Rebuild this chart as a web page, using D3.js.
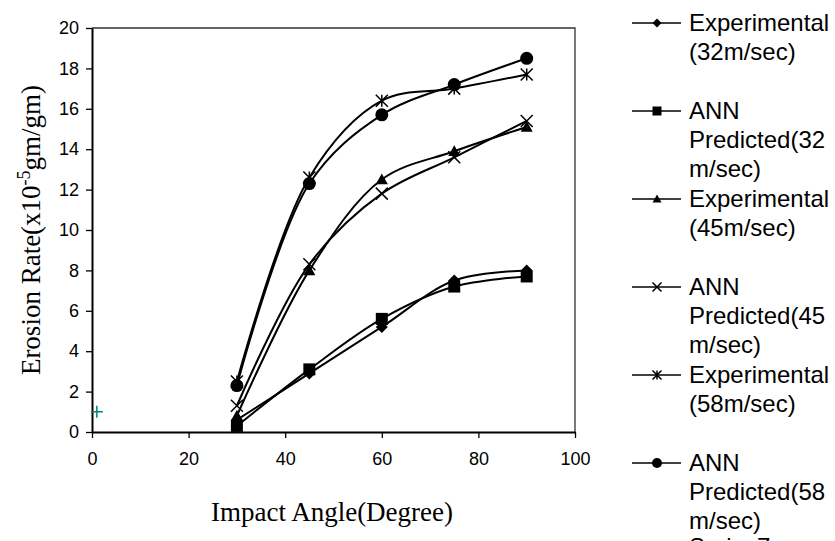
<!DOCTYPE html>
<html>
<head>
<meta charset="utf-8">
<script src="https://cdn.jsdelivr.net/npm/d3@7"></script>
<style>
  body { margin: 0; background: #fff; }
  .tick text { font-family: "Liberation Sans", Arial, sans-serif; font-size: 18px; fill: #000; }
  .legend text { font-family: "Liberation Sans", Arial, sans-serif; font-size: 24px; fill: #000; }
  .title { font-family: "Liberation Serif", "Times New Roman", serif; font-size: 27px; fill: #000; }
</style>
</head>
<body>
<script>
// impact angles (degree)
var angles = [30, 45, 60, 75, 90];
// erosion rate x10^-5 gm/gm
var exp32 = [0.6, 2.9, 5.2, 7.5, 8.0];
var ann32 = [0.3, 3.1, 5.6, 7.2, 7.7];
var exp45 = [0.8, 8.0, 12.5, 13.9, 15.1];
var ann45 = [1.3, 8.3, 11.8, 13.6, 15.4];
var exp58 = [2.5, 12.6, 16.4, 17.0, 17.7];
var ann58 = [2.3, 12.3, 15.7, 17.2, 18.5];
var series7 = [{x: 1, y: 1}];
var xTicks = [0, 20, 40, 60, 80, 100];
var yTicks = [0, 2, 4, 6, 8, 10, 12, 14, 16, 18, 20];
var seriesNames = [
  ["Experimental", "(32m/sec)"],
  ["ANN", "Predicted(32", "m/sec)"],
  ["Experimental", "(45m/sec)"],
  ["ANN", "Predicted(45", "m/sec)"],
  ["Experimental", "(58m/sec)"],
  ["ANN", "Predicted(58", "m/sec)"],
  ["Series7"]
];

var series = [
  {values: exp32, marker: "diamond"},
  {values: ann32, marker: "square"},
  {values: exp45, marker: "triangle"},
  {values: ann45, marker: "cross"},
  {values: exp58, marker: "asterisk"},
  {values: ann58, marker: "circle"}
];

var margin = {top: 28, right: 260, bottom: 109, left: 92},
    width = 835 - margin.left - margin.right,
    height = 541 - margin.top - margin.bottom;

var svg = d3.select("body").append("svg")
    .attr("width", 835)
    .attr("height", 541);
var g = svg.append("g")
    .attr("transform", "translate(" + margin.left + "," + margin.top + ")");

var x = d3.scaleLinear().domain([0, 100]).range([0, width]);
var y = d3.scaleLinear().domain([0, 20]).range([height, 0]);

// plot frame (top/right)
g.append("path")
    .attr("d", "M0,0H" + width + "V" + height)
    .attr("fill", "none")
    .attr("stroke", "#333")
    .attr("stroke-width", 1.3);

var xAxis = g.append("g")
    .attr("class", "x axis")
    .attr("transform", "translate(0," + height + ")")
    .call(d3.axisBottom(x).tickValues(xTicks).tickSize(6).tickPadding(14).tickSizeOuter(0));
var yAxis = g.append("g")
    .attr("class", "y axis")
    .call(d3.axisLeft(y).tickValues(yTicks).tickSize(6).tickPadding(7).tickSizeOuter(0));
g.selectAll(".axis .domain").attr("stroke", "#000").attr("stroke-width", 2);
g.selectAll(".axis .tick line").attr("stroke", "#000").attr("stroke-width", 1.3);

function markerPath(type, s) {
  var h = s / 2;
  switch (type) {
    case "diamond": return "M0," + (-h) + "L" + h + ",0L0," + h + "L" + (-h) + ",0Z";
    case "square": return "M" + (-h) + "," + (-h) + "H" + h + "V" + h + "H" + (-h) + "Z";
    case "triangle": return "M0," + (-h) + "L" + h + "," + (h * 0.8) + "L" + (-h) + "," + (h * 0.8) + "Z";
    case "cross": return "M" + (-h) + "," + (-h) + "L" + h + "," + h + "M" + h + "," + (-h) + "L" + (-h) + "," + h;
    case "asterisk": return "M" + (-h) + "," + (-h) + "L" + h + "," + h + "M" + h + "," + (-h) + "L" + (-h) + "," + h + "M0," + (-h) + "V" + h;
    case "plus": return "M" + (-h) + ",0H" + h + "M0," + (-h) + "V" + h;
  }
}

function drawMarker(sel, type, s) {
  if (type === "circle") {
    sel.append("circle").attr("r", s / 2).attr("fill", "#000");
  } else if (type === "cross" || type === "asterisk" || type === "plus") {
    sel.append("path").attr("d", markerPath(type, s)).attr("fill", "none")
      .attr("stroke", "#000").attr("stroke-width", 1.5);
  } else {
    sel.append("path").attr("d", markerPath(type, s)).attr("fill", "#000");
  }
}

var line = d3.line()
    .x(function(d, i) { return x(angles[i]); })
    .y(function(d) { return y(d); })
    .curve(d3.curveCatmullRom.alpha(0.5));

series.forEach(function(s) {
  g.append("path")
      .attr("d", line(s.values))
      .attr("fill", "none")
      .attr("stroke", "#000")
      .attr("stroke-width", 2);
});

series.forEach(function(s) {
  s.values.forEach(function(v, i) {
    var m = g.append("g").attr("transform", "translate(" + x(angles[i]) + "," + y(v) + ")");
    drawMarker(m, s.marker, s.marker === "circle" ? 13 : 12);
  });
});

// series 7 teal plus
g.selectAll(".s7")
    .data(series7)
  .enter().append("path")
    .attr("transform", function(d) { return "translate(" + x(d.x) + "," + y(d.y) + ")"; })
    .attr("d", markerPath("plus", 12))
    .attr("fill", "none")
    .attr("stroke", "#008080")
    .attr("stroke-width", 1.5);

// axis titles
svg.append("text")
    .attr("class", "title")
    .attr("x", 332)
    .attr("y", 521)
    .attr("text-anchor", "middle")
    .text("Impact Angle(Degree)");

var yt = svg.append("text")
    .attr("class", "title")
    .attr("transform", "translate(40," + (margin.top + height / 2) + ") rotate(-90)")
    .attr("text-anchor", "middle");
yt.append("tspan").text("Erosion Rate(x10");
yt.append("tspan").attr("dy", -10).style("font-size", "18px").text("-5");
yt.append("tspan").attr("dy", 10).text("gm/gm)");

// legend
var legend = svg.append("g").attr("class", "legend");
seriesNames.forEach(function(lines, i) {
  var ly = i < 6 ? 23 + i * 88 : 547;
  var item = legend.append("g").attr("transform", "translate(0," + ly + ")");
  if (i < 6) {
    item.append("line").attr("x1", 632).attr("x2", 681).attr("y1", 0).attr("y2", 0)
      .attr("stroke", "#000").attr("stroke-width", 1.5);
    var m = item.append("g").attr("transform", "translate(657,0)");
    drawMarker(m, series[i].marker, series[i].marker === "circle" ? 10 : 9);
  }
  lines.forEach(function(t, j) {
    item.append("text")
      .attr("x", 689)
      .attr("y", j * 29)
      .attr("dy", "0.35em")
      .text(t);
  });
});
</script>
</body>
</html>
